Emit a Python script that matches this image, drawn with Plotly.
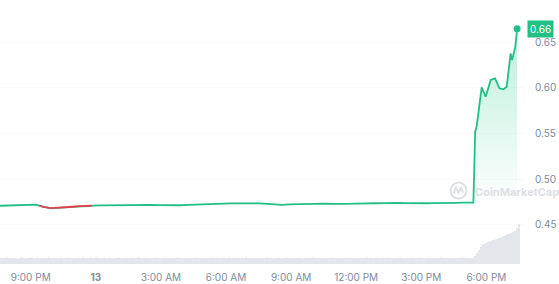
import numpy as np
import pandas as pd
import plotly.graph_objects as go

# ---------------- data ----------------
flat_start = "2024-03-12 19:35"
flat_price = [
    0.4708, 0.4712, 0.4716, 0.4720, 0.4724, 0.4720, 0.4695, 0.4681, 0.4684, 0.4690,
    0.4697, 0.4703, 0.4706, 0.4709, 0.4711, 0.4713, 0.4714, 0.4716, 0.4717, 0.4719,
    0.4720, 0.4718, 0.4714, 0.4711, 0.4710, 0.4713, 0.4718, 0.4722, 0.4725, 0.4723,
    0.4727, 0.4731, 0.4734, 0.4735, 0.4732, 0.4734, 0.4733, 0.4729, 0.4722, 0.4717,
    0.4722, 0.4725, 0.4728, 0.4730, 0.4733, 0.4732, 0.4729, 0.4726, 0.4728, 0.4731,
    0.4730, 0.4732, 0.4735, 0.4737, 0.4740, 0.4738, 0.4736, 0.4734, 0.4733, 0.4735,
    0.4737, 0.4736, 0.4738, 0.4740, 0.4741, 0.4740,
]
rise_times = [
    "2024-03-13 17:24", "2024-03-13 17:29", "2024-03-13 17:33", "2024-03-13 17:47",
    "2024-03-13 17:58", "2024-03-13 18:12", "2024-03-13 18:24", "2024-03-13 18:36",
    "2024-03-13 18:47", "2024-03-13 18:56", "2024-03-13 19:07", "2024-03-13 19:11",
    "2024-03-13 19:20", "2024-03-13 19:25",
]
rise_price = [
    0.4742, 0.5520, 0.5575, 0.6007, 0.5903, 0.6087, 0.6105, 0.5996,
    0.5985, 0.6010, 0.6379, 0.6306, 0.6452, 0.6648,
]

vol_start = "2024-03-12 19:35"
volume_k = [
    30, 31, 29, 30, 32, 30, 29, 31, 30, 30, 28, 31, 33, 30, 29, 30, 31, 30, 32, 29, 30, 31, 30, 29,
    31, 30, 30, 32, 29, 30, 31, 30, 28, 30, 31, 29, 30, 32, 30, 31, 29, 30, 30, 31, 30, 29, 32, 30,
    30, 29, 31, 30, 30, 32, 31, 29, 30, 30, 31, 28, 30, 31, 30, 29, 31, 30, 32, 30, 29, 30, 31, 30,
    29, 31, 30, 30, 31, 32, 30, 29, 30, 31, 30, 30, 29, 31, 30, 32, 30, 29, 30, 31, 30, 30, 31, 29,
    30, 30, 32, 31, 29, 30, 31, 30, 30, 29, 31, 30, 32, 30, 30, 29, 31, 30, 30, 31, 29, 30, 32, 30,
    31, 30, 29, 30, 31, 30, 30, 32, 29, 30, 31, 30, 30, 29, 31, 30, 32, 30, 29, 31, 30, 30, 31, 30,
    30, 31, 29, 30, 32, 30, 31, 29, 30, 30, 31, 30, 29, 31, 30, 32, 30, 30, 29, 31, 30, 30, 31, 29,
    29, 30, 31, 30, 30, 32, 30, 29, 31, 30, 30, 31, 30, 29, 30, 32, 31, 30, 29, 30, 31, 30, 30, 31,
    30, 32, 30, 29, 31, 30, 30, 31, 29, 30, 30, 32, 30, 31, 29, 30, 31, 30, 30, 29, 31, 30, 32, 30,
    31, 30, 29, 30, 31, 30, 32, 30, 29, 31, 30, 30, 31, 29, 30, 30, 31, 32, 30, 29, 30, 31, 30, 30,
    30, 29, 31, 30, 32, 30, 30, 31, 29, 30, 31, 30, 30, 29, 31, 30, 32, 30, 31, 30, 29, 30, 31,
    40, 55, 70, 85, 95, 100, 105, 110, 112, 115, 120, 122, 125, 130, 132, 135, 140, 145, 150, 152,
    155, 160, 165, 180, 200,
]

tick_times = ["2024-03-12 21:00", "2024-03-13 00:00", "2024-03-13 03:00", "2024-03-13 06:00",
              "2024-03-13 09:00", "2024-03-13 12:00", "2024-03-13 15:00", "2024-03-13 18:00"]
tick_text = ["9:00 PM", "<b>13</b>", "3:00 AM", "6:00 AM", "9:00 AM", "12:00 PM", "3:00 PM", "6:00 PM"]
price_ticks = [0.45, 0.50, 0.55, 0.60, 0.65]

# ---------------- build ----------------
GREEN = "#22bf85"
RED = "#e0434f"
GREY = "#808a9d"
WM = "#dde0e5"

flat_times = pd.date_range(flat_start, periods=len(flat_price), freq="20min")
times = flat_times.append(pd.to_datetime(rise_times))
price = np.array(flat_price + rise_price)
vol_times = pd.date_range(vol_start, periods=len(volume_k), freq="5min")

# red segments (below open), with interpolated crossings
open_p = price[0]
tnum = times.astype("int64").to_numpy().astype(float)
rx, ry = [], []
for i in range(1, len(price)):
    a, b = price[i - 1] - open_p, price[i] - open_p
    if a < 0 or b < 0:
        x0, y0, x1, y1 = tnum[i - 1], price[i - 1], tnum[i], price[i]
        if a >= 0:
            f = a / (a - b)
            x0, y0 = tnum[i - 1] + f * (tnum[i] - tnum[i - 1]), open_p
        if b >= 0:
            f = a / (a - b)
            x1, y1 = tnum[i - 1] + f * (tnum[i] - tnum[i - 1]), open_p
        if rx and rx[-1] is not None and rx[-1] == x0:
            rx.append(x1); ry.append(y1)
        else:
            if rx:
                rx.append(None); ry.append(None)
            rx += [x0, x1]; ry += [y0, y1]
rx_dt = [pd.Timestamp(int(v)) if v is not None else None for v in rx]

fig = go.Figure()
fig.add_trace(go.Bar(x=vol_times, y=volume_k, yaxis="y2", marker=dict(color="#e3e6ea", line=dict(width=0)),
                     hoverinfo="skip"))
fig.add_trace(go.Scatter(
    x=times, y=price, mode="lines", line=dict(color=GREEN, width=1.8),
    fill="tozeroy",
    fillgradient=dict(type="vertical", start=0.47, stop=0.67,
                      colorscale=[[0, "rgba(22,199,132,0)"], [1, "rgba(22,199,132,0.30)"]]),
))
fig.add_trace(go.Scatter(x=rx_dt, y=ry, mode="lines", line=dict(color=RED, width=1.8), connectgaps=False))
fig.add_trace(go.Scatter(x=[times[-1]], y=[price[-1]], mode="markers",
                         marker=dict(color=GREEN, size=7)))

x_left = pd.Timestamp("2024-03-12 19:35:06")
x_right = pd.Timestamp("2024-03-13 19:44:00")

fig.update_layout(
    width=559, height=284,
    margin=dict(l=0, r=35, t=0, b=20),
    paper_bgcolor="white", plot_bgcolor="white",
    showlegend=False,
    bargap=0.3,
    font=dict(family="Inter", color=GREY, size=10),
    xaxis=dict(range=[x_left, x_right], tickvals=pd.to_datetime(tick_times), ticktext=tick_text,
               showgrid=False, zeroline=False, showline=False, ticks="",
               tickfont=dict(size=10, color=GREY), ticklabelstandoff=6),
    yaxis=dict(side="right", range=[0.4069, 0.6964], tickvals=price_ticks, tickformat=".2f",
               showgrid=True, gridcolor="#fafafb", zeroline=False, showline=False, ticks="",
               tickfont=dict(size=10, color=GREY), ticklabelstandoff=10),
    yaxis2=dict(overlaying="y", range=[0, 1320], visible=False),
    annotations=[
        dict(xref="paper", x=1, y=float(price[-1]), yref="y", xanchor="left", yanchor="middle",
             xshift=3, text="%.2f" % price[-1], showarrow=False,
             bgcolor=GREEN, borderpad=2, font=dict(color="white", size=10)),
        dict(xref="paper", yref="paper", x=0.9027, y=0.272, xanchor="left", yanchor="middle",
             text="<b>CoinMarketCap</b>", showarrow=False,
             font=dict(size=11, color=WM, family="Inter")),
    ],
    shapes=[
        dict(type="circle", xref="paper", yref="paper", xsizemode="pixel", ysizemode="pixel",
             xanchor=0.875, yanchor=0.278, x0=-8, x1=8, y0=-8, y1=8,
             line=dict(color=WM, width=2), layer="below"),
        dict(type="path", xref="paper", yref="paper", xsizemode="pixel", ysizemode="pixel",
             xanchor=0.875, yanchor=0.278, path="M -5,-3 L -2.5,3 L 0,-2 L 2.5,3 L 4.5,-2",
             line=dict(color=WM, width=2), layer="below"),
    ],
)

fig.write_html("out.html")
